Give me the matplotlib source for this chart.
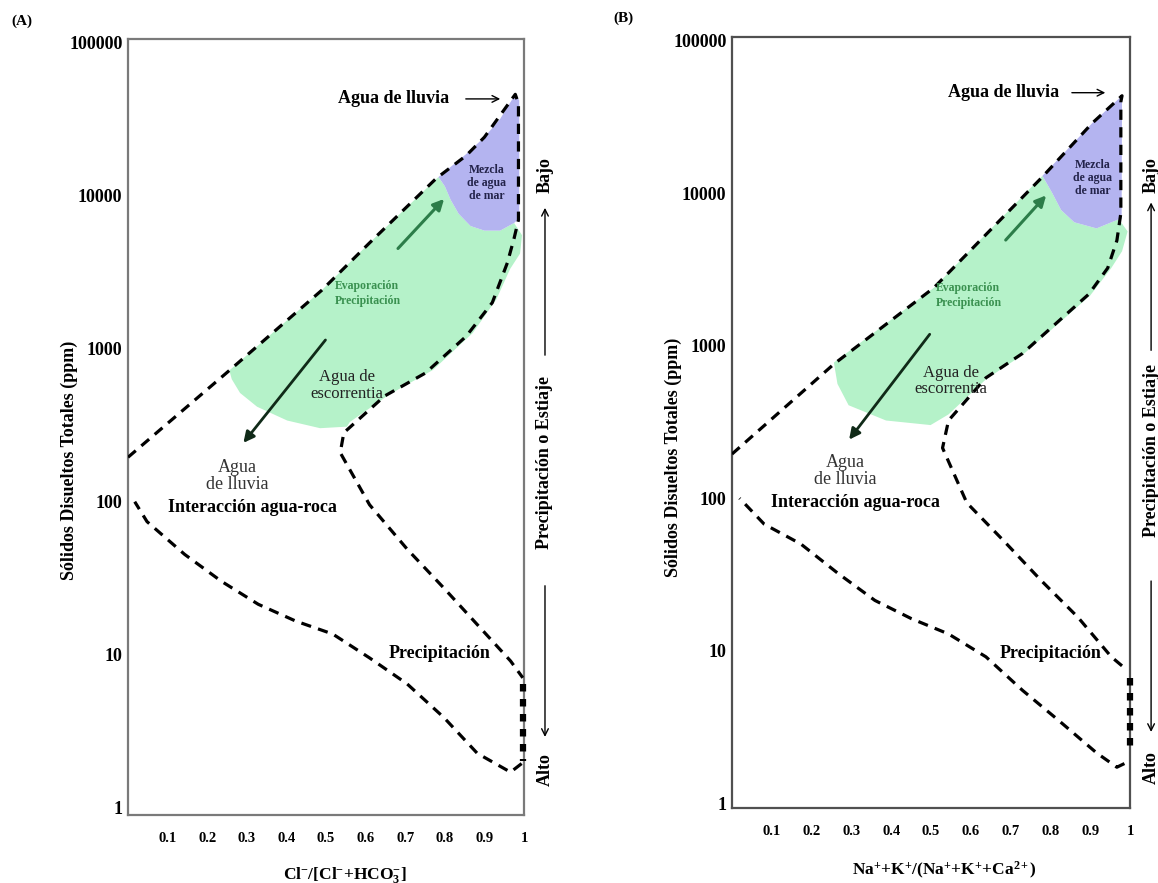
import numpy as np
import matplotlib
matplotlib.use("Agg")
import matplotlib.pyplot as plt

plt.rcParams['font.family'] = ['Liberation Serif', 'DejaVu Serif']
plt.rcParams['mathtext.fontset'] = 'custom'
plt.rcParams['mathtext.rm'] = 'Liberation Serif'
plt.rcParams['mathtext.bf'] = 'Liberation Serif:bold'
plt.rcParams['mathtext.it'] = 'Liberation Serif:italic'

# ---------------- data (x ratio, log10 TDS) ----------------
ytick_vals = [1, 10, 100, 1000, 10000, 100000]
ytick_labels = ["1", "10", "100", "1000", "10000", "100000"]
xtick_vals = [0.1, 0.2, 0.3, 0.4, 0.5, 0.6, 0.7, 0.8, 0.9, 1.0]
xtick_labels = ["0.1", "0.2", "0.3", "0.4", "0.5", "0.6", "0.7", "0.8", "0.9", "1"]

# Panel A
A_outer_x = [0.0, 0.256, 0.489, 0.61, 0.778, 0.854, 0.90, 0.978, 0.986, 0.986, 0.975, 0.958,
             0.92, 0.854, 0.751, 0.648, 0.545, 0.536, 0.61, 0.705, 0.798, 0.89, 0.966, 0.997]
A_outer_log = [2.29, 2.857, 3.38, 3.69, 4.11, 4.26, 4.38, 4.66, 4.60, 3.84, 3.72, 3.56,
               3.30, 3.08, 2.84, 2.69, 2.45, 2.32, 1.98, 1.69, 1.435, 1.175, 0.96, 0.85]
A_lower_x = [0.994, 0.966, 0.882, 0.798, 0.705, 0.61, 0.517, 0.424, 0.329, 0.236, 0.143, 0.048, 0.017]
A_lower_log = [0.29, 0.234, 0.357, 0.59, 0.81, 0.98, 1.136, 1.22, 1.33, 1.48, 1.656, 1.87, 2.0]
A_bold_x = [0.998, 0.998]
A_bold_log = [0.81, 0.31]
A_green_x = [0.256, 0.489, 0.61, 0.784, 0.80, 0.815, 0.835, 0.865, 0.90, 0.94, 0.975, 0.995,
             0.99, 0.965, 0.93, 0.87, 0.77, 0.66, 0.56, 0.553, 0.485, 0.402, 0.326, 0.283, 0.262]
A_green_log = [2.857, 3.38, 3.69, 4.12, 4.06, 3.97, 3.88, 3.80, 3.77, 3.77, 3.82, 3.74,
               3.62, 3.52, 3.32, 3.10, 2.86, 2.70, 2.52, 2.49, 2.48, 2.53, 2.62, 2.71, 2.80]
A_purple_x = [0.784, 0.854, 0.90, 0.94, 0.978, 0.988, 0.988, 0.975, 0.94, 0.90, 0.865, 0.835, 0.815, 0.80]
A_purple_log = [4.12, 4.27, 4.38, 4.50, 4.66, 4.62, 3.85, 3.82, 3.77, 3.77, 3.80, 3.88, 3.97, 4.06]

# Panel B
B_outer_x = [0.0, 0.256, 0.507, 0.777, 0.905, 0.98, 0.977, 0.977, 0.967, 0.944, 0.897, 0.822,
             0.73, 0.638, 0.544, 0.529, 0.59, 0.683, 0.777, 0.869, 0.953, 0.994]
B_outer_log = [2.29, 2.88, 3.38, 4.10, 4.46, 4.64, 4.60, 3.87, 3.69, 3.51, 3.34, 3.165,
               2.95, 2.79, 2.51, 2.33, 1.97, 1.72, 1.46, 1.22, 0.96, 0.87]
B_lower_x = [0.986, 0.967, 0.916, 0.822, 0.73, 0.638, 0.544, 0.451, 0.359, 0.265, 0.173, 0.081, 0.019]
B_lower_log = [0.26, 0.236, 0.33, 0.54, 0.74, 0.96, 1.11, 1.21, 1.33, 1.51, 1.70, 1.83, 2.0]
B_bold_x = [0.999, 0.999]
B_bold_log = [0.82, 0.35]
B_green_x = [0.256, 0.507, 0.78, 0.805, 0.827, 0.86, 0.916, 0.972, 0.994, 0.98, 0.953, 0.90,
             0.822, 0.73, 0.638, 0.544, 0.499, 0.387, 0.293, 0.265]
B_green_log = [2.89, 3.38, 4.115, 4.0, 3.89, 3.81, 3.77, 3.83, 3.75, 3.62, 3.51, 3.33,
               3.15, 2.94, 2.78, 2.55, 2.48, 2.51, 2.61, 2.75]
B_purple_x = [0.78, 0.905, 0.98, 0.979, 0.972, 0.916, 0.86, 0.827, 0.805]
B_purple_log = [4.115, 4.46, 4.64, 3.83, 3.83, 3.77, 3.81, 3.89, 4.0]

A_cfg = dict(
    outer=(A_outer_x, A_outer_log), lower=(A_lower_x, A_lower_log), bold=(A_bold_x, A_bold_log),
    green=(A_green_x, A_green_log), purple=(A_purple_x, A_purple_log),
    garrow=((0.677, 3.64), (0.803, 3.99)), darrow=((0.503, 3.07), (0.287, 2.37)),
    lluvia_top=(0.671, 4.63), lluvia_arrow=(0.846, 0.947),
    mezcla=(0.905, 4.08), evap=(0.606, 3.36), escor=(0.553, 2.76),
    lluvia=(0.276, 2.17), inter=(0.313, 1.96), precip=(0.786, 1.01),
    xlabel=r'$\mathbf{Cl^{-}/[Cl^{-}{+}HCO_{3}^{-}]}$',
    ylim=(0.9, 1.05e5), rect=[128 / 1158, 1 - 815 / 883, 396 / 1158, 776 / 883],
    side=dict(x=1.053, bajo=0.825, up=(0.589, 0.786), text=0.454, down=(0.299, 0.097), alto=0.058),
    xlab=(0.548, -0.064), ylab=(-0.126, 0.457), spine='#7a7a7a', tag='(A)', tagpos=(22, 21),
)
B_cfg = dict(
    outer=(B_outer_x, B_outer_log), lower=(B_lower_x, B_lower_log), bold=(B_bold_x, B_bold_log),
    green=(B_green_x, B_green_log), purple=(B_purple_x, B_purple_log),
    garrow=((0.683, 3.68), (0.794, 4.0)), darrow=((0.501, 3.09), (0.29, 2.37)),
    lluvia_top=(0.683, 4.66), lluvia_arrow=(0.847, 0.945),
    mezcla=(0.907, 4.10), evap=(0.596, 3.33), escor=(0.55, 2.77),
    lluvia=(0.284, 2.18), inter=(0.31, 1.97), precip=(0.80, 0.98),
    xlabel=r'$\mathbf{Na^{+}{+}K^{+}/(Na^{+}{+}K^{+}{+}Ca^{2+})}$',
    ylim=(0.93, 1.06e5), rect=[732 / 1158, 1 - 808 / 883, 398 / 1158, 771 / 883],
    side=dict(x=1.053, bajo=0.821, up=(0.59, 0.789), text=0.464, down=(0.298, 0.095), alto=0.053),
    xlab=(0.535, -0.0674), ylab=(-0.126, 0.455), spine='#505050', tag='(B)', tagpos=(623, 18),
)

GREEN = '#b5f2c9'
PURPLE = '#b4b4f0'
DASH = (0, (3.2, 2.3))


def P(v):
    return 10 ** np.asarray(v, dtype=float)


fig = plt.figure(figsize=(11.58, 8.83), dpi=100)

for cfg in (A_cfg, B_cfg):
    ax = fig.add_axes(cfg['rect'])
    ax.set_yscale('log')
    ax.set_xlim(0, 1)
    ax.set_ylim(*cfg['ylim'])
    ax.set_yticks(ytick_vals)
    ax.set_yticklabels(ytick_labels, fontsize=13, fontweight='bold')
    ax.set_xticks(xtick_vals)
    ax.set_xticklabels(xtick_labels, fontsize=10.5, fontweight='bold')
    ax.yaxis.set_minor_locator(matplotlib.ticker.NullLocator())
    ax.tick_params(axis='both', length=0)
    ax.tick_params(axis='y', pad=4)
    ax.tick_params(axis='x', pad=12)
    for s in ax.spines.values():
        s.set_color(cfg['spine'])
        s.set_linewidth(1.6)

    gx, gl = cfg['green']
    ax.fill(gx, P(gl), color=GREEN, lw=0, zorder=1)
    px, pl = cfg['purple']
    ax.fill(px, P(pl), color=PURPLE, lw=0, zorder=1.2)

    ox, ol = cfg['outer']
    ax.plot(ox, P(ol), color='black', lw=2.3, ls=DASH, zorder=3)
    lx, ll = cfg['lower']
    ax.plot(lx, P(ll), color='black', lw=2.3, ls=DASH, zorder=3)
    bx, bl = cfg['bold']
    ax.plot(bx, P(bl), color='black', lw=4.5, ls=(0, (1.2, 1.2)), zorder=4, clip_on=False)

    (g0, g1) = cfg['garrow']
    ax.annotate('', xy=(g1[0], 10 ** g1[1]), xytext=(g0[0], 10 ** g0[1]),
                arrowprops=dict(arrowstyle='-|>', color='#2c7d49', lw=2.2, mutation_scale=16),
                zorder=5)
    (d0, d1) = cfg['darrow']
    ax.annotate('', xy=(d1[0], 10 ** d1[1]), xytext=(d0[0], 10 ** d0[1]),
                arrowprops=dict(arrowstyle='-|>', color='#102a18', lw=2.0, mutation_scale=16),
                zorder=5)

    tx, tl = cfg['lluvia_top']
    ax.text(tx, 10 ** tl, 'Agua de lluvia', fontsize=13, fontweight='bold', ha='center', va='center')
    a0, a1 = cfg['lluvia_arrow']
    ax.annotate('', xy=(a1, 10 ** tl), xytext=(a0, 10 ** tl),
                arrowprops=dict(arrowstyle='->', color='black', lw=1.0, mutation_scale=12))

    mx, ml = cfg['mezcla']
    ax.text(mx, 10 ** ml, 'Mezcla\nde agua\nde mar', fontsize=8.5, fontweight='bold', color='#23234a',
            ha='center', va='center', linespacing=1.1, zorder=6)
    ex, el = cfg['evap']
    ax.text(ex, 10 ** el, 'Evaporación\nPrecipitación', fontsize=8.5, fontweight='bold', color='#3a9150',
            ha='center', va='center', multialignment='left', linespacing=1.3, zorder=6)
    sx, sl = cfg['escor']
    ax.text(sx, 10 ** sl, 'Agua de\nescorrentia', fontsize=12, color='#222222',
            ha='center', va='center', linespacing=1.05, zorder=6)
    rx, rl = cfg['lluvia']
    ax.text(rx, 10 ** rl, 'Agua\nde lluvia', fontsize=13, color='#333333',
            ha='center', va='center', linespacing=1.0, zorder=6)
    ix, il = cfg['inter']
    ax.text(ix, 10 ** il, 'Interacción agua-roca', fontsize=13, fontweight='bold',
            ha='center', va='center', zorder=6)
    qx, ql = cfg['precip']
    ax.text(qx, 10 ** ql, 'Precipitación', fontsize=13, fontweight='bold',
            ha='center', va='center', zorder=6)

    sd = cfg['side']
    tr = ax.transAxes
    ax.text(sd['x'], sd['bajo'], 'Bajo', transform=tr, rotation=90, fontsize=13, fontweight='bold',
            ha='center', va='center', clip_on=False)
    ax.annotate('', xy=(sd['x'], sd['up'][1]), xytext=(sd['x'], sd['up'][0]), xycoords='axes fraction',
                textcoords='axes fraction',
                arrowprops=dict(arrowstyle='->', color='black', lw=1.0, mutation_scale=12))
    ax.text(sd['x'], sd['text'], 'Precipitación o Estiaje', transform=tr, rotation=90, fontsize=13,
            fontweight='bold', ha='center', va='center', clip_on=False)
    ax.annotate('', xy=(sd['x'], sd['down'][1]), xytext=(sd['x'], sd['down'][0]),
                xycoords='axes fraction', textcoords='axes fraction',
                arrowprops=dict(arrowstyle='->', color='black', lw=1.0, mutation_scale=12))
    ax.text(sd['x'], sd['alto'], 'Alto', transform=tr, rotation=90, fontsize=13, fontweight='bold',
            ha='center', va='center', clip_on=False)

    ax.set_xlabel(cfg['xlabel'], fontsize=12.5)
    ax.xaxis.set_label_coords(*cfg['xlab'])
    ax.set_ylabel('Sólidos Disueltos Totales (ppm)', fontsize=13, fontweight='bold')
    ax.yaxis.set_label_coords(*cfg['ylab'])

    fig.text(cfg['tagpos'][0] / 1158, 1 - cfg['tagpos'][1] / 883, cfg['tag'], fontsize=11,
             fontweight='bold', ha='center', va='center')

fig.savefig('out.png', dpi=100)
